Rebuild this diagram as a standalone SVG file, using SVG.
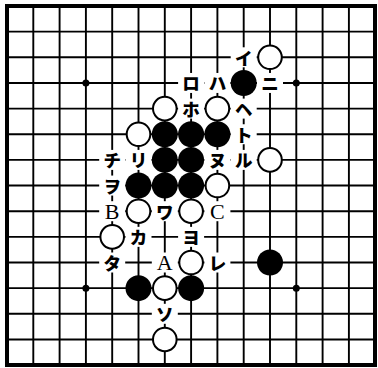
<svg xmlns="http://www.w3.org/2000/svg" width="378" height="368" viewBox="0 0 378 368">
<style>
.g{stroke:#000;stroke-width:1.9;fill:none}
.w{fill:#fff;stroke:#000;stroke-width:2}
.b{fill:#000}
.bg{fill:#fff}
.k{font-family:"Noto Sans CJK JP","Noto Sans",sans-serif;font-weight:900;font-size:17.5px;text-anchor:middle;dominant-baseline:central}
.l{font-family:"Liberation Serif",serif;font-size:22px;text-anchor:middle;dominant-baseline:central}
</style>
<rect width="378" height="368" fill="#fff"/>
<g id="board">
<path class="g" d="M33.3 6V365M59.6 6V365M85.9 6V365M112.2 6V365M138.5 6V365M164.8 6V365M191.1 6V365M217.4 6V365M243.7 6V365M270 6V365M296.3 6V365M322.6 6V365M348.9 6V365M7 31.65H375M7 57.3H375M7 82.95H375M7 108.6H375M7 134.25H375M7 159.9H375M7 185.55H375M7 211.2H375M7 236.85H375M7 262.5H375M7 288.15H375M7 313.8H375M7 339.45H375"/>
<rect x="7" y="6" width="368" height="359" fill="none" stroke="#000" stroke-width="4"/>
<circle cx="85.9" cy="82.95" r="3.5"/><circle cx="296.3" cy="82.95" r="3.5"/><circle cx="85.9" cy="288.15" r="3.5"/><circle cx="296.3" cy="288.15" r="3.5"/>
</g>
<g id="labels">
<g id="l-i"><rect class="bg" x="230.7" y="47.3" width="26" height="20"/><text class="k" x="243.7" y="57.3">イ</text></g>
<g id="l-ro"><rect class="bg" x="178.1" y="72.95" width="26" height="20"/><text class="k" x="191.1" y="82.95">ロ</text></g>
<g id="l-ha"><rect class="bg" x="204.4" y="72.95" width="26" height="20"/><text class="k" x="217.4" y="82.95">ハ</text></g>
<g id="l-ni"><rect class="bg" x="257" y="72.95" width="26" height="20"/><text class="k" x="270" y="82.95">ニ</text></g>
<g id="l-ho"><rect class="bg" x="178.1" y="98.6" width="26" height="20"/><text class="k" x="191.1" y="108.6">ホ</text></g>
<g id="l-he"><rect class="bg" x="230.7" y="98.6" width="26" height="20"/><text class="k" x="243.7" y="108.6">ヘ</text></g>
<g id="l-to"><rect class="bg" x="230.7" y="124.25" width="26" height="20"/><text class="k" x="243.7" y="134.25">ト</text></g>
<g id="l-chi"><rect class="bg" x="99.2" y="149.9" width="26" height="20"/><text class="k" x="112.2" y="159.9">チ</text></g>
<g id="l-ri"><rect class="bg" x="125.5" y="149.9" width="26" height="20"/><text class="k" x="138.5" y="159.9">リ</text></g>
<g id="l-nu"><rect class="bg" x="204.4" y="149.9" width="26" height="20"/><text class="k" x="217.4" y="159.9">ヌ</text></g>
<g id="l-ru"><rect class="bg" x="230.7" y="149.9" width="26" height="20"/><text class="k" x="243.7" y="159.9">ル</text></g>
<g id="l-wo"><rect class="bg" x="99.2" y="175.55" width="26" height="20"/><text class="k" x="112.2" y="185.55">ヲ</text></g>
<g id="l-B"><rect class="bg" x="99.2" y="201.2" width="26" height="20"/><text class="l" x="112.2" y="211.2">B</text></g>
<g id="l-wa"><rect class="bg" x="151.8" y="201.2" width="26" height="20"/><text class="k" x="164.8" y="211.2">ワ</text></g>
<g id="l-C"><rect class="bg" x="204.4" y="201.2" width="26" height="20"/><text class="l" x="217.4" y="211.2">C</text></g>
<g id="l-ka"><rect class="bg" x="125.5" y="226.85" width="26" height="20"/><text class="k" x="138.5" y="236.85">カ</text></g>
<g id="l-yo"><rect class="bg" x="178.1" y="226.85" width="26" height="20"/><text class="k" x="191.1" y="236.85">ヨ</text></g>
<g id="l-ta"><rect class="bg" x="99.2" y="252.5" width="26" height="20"/><text class="k" x="112.2" y="262.5">タ</text></g>
<g id="l-A"><rect class="bg" x="151.8" y="252.5" width="26" height="20"/><text class="l" x="164.8" y="262.5">A</text></g>
<g id="l-re"><rect class="bg" x="204.4" y="252.5" width="26" height="20"/><text class="k" x="217.4" y="262.5">レ</text></g>
<g id="l-so"><rect class="bg" x="151.8" y="303.8" width="26" height="20"/><text class="k" x="164.8" y="313.8">ソ</text></g>
</g>
<g id="stones">
<circle id="w1" class="w" cx="270" cy="57.3" r="11.8"/>
<circle id="w2" class="w" cx="164.8" cy="108.6" r="11.8"/>
<circle id="w3" class="w" cx="217.4" cy="108.6" r="11.8"/>
<circle id="w4" class="w" cx="138.5" cy="134.25" r="11.8"/>
<circle id="w5" class="w" cx="270" cy="159.9" r="11.8"/>
<circle id="w6" class="w" cx="217.4" cy="185.55" r="11.8"/>
<circle id="w7" class="w" cx="138.5" cy="211.2" r="11.8"/>
<circle id="w8" class="w" cx="191.1" cy="211.2" r="11.8"/>
<circle id="w9" class="w" cx="112.2" cy="236.85" r="11.8"/>
<circle id="w10" class="w" cx="191.1" cy="262.5" r="11.8"/>
<circle id="w11" class="w" cx="164.8" cy="288.15" r="11.8"/>
<circle id="w12" class="w" cx="164.8" cy="339.45" r="11.8"/>
<circle id="b1" class="b" cx="243.7" cy="82.95" r="13"/>
<circle id="b2" class="b" cx="164.8" cy="134.25" r="13"/>
<circle id="b3" class="b" cx="191.1" cy="134.25" r="13"/>
<circle id="b4" class="b" cx="217.4" cy="134.25" r="13"/>
<circle id="b5" class="b" cx="164.8" cy="159.9" r="13"/>
<circle id="b6" class="b" cx="191.1" cy="159.9" r="13"/>
<circle id="b7" class="b" cx="138.5" cy="185.55" r="13"/>
<circle id="b8" class="b" cx="164.8" cy="185.55" r="13"/>
<circle id="b9" class="b" cx="191.1" cy="185.55" r="13"/>
<circle id="b10" class="b" cx="270" cy="262.5" r="13"/>
<circle id="b11" class="b" cx="138.5" cy="288.15" r="13"/>
<circle id="b12" class="b" cx="191.1" cy="288.15" r="13"/>
</g>
</svg>
